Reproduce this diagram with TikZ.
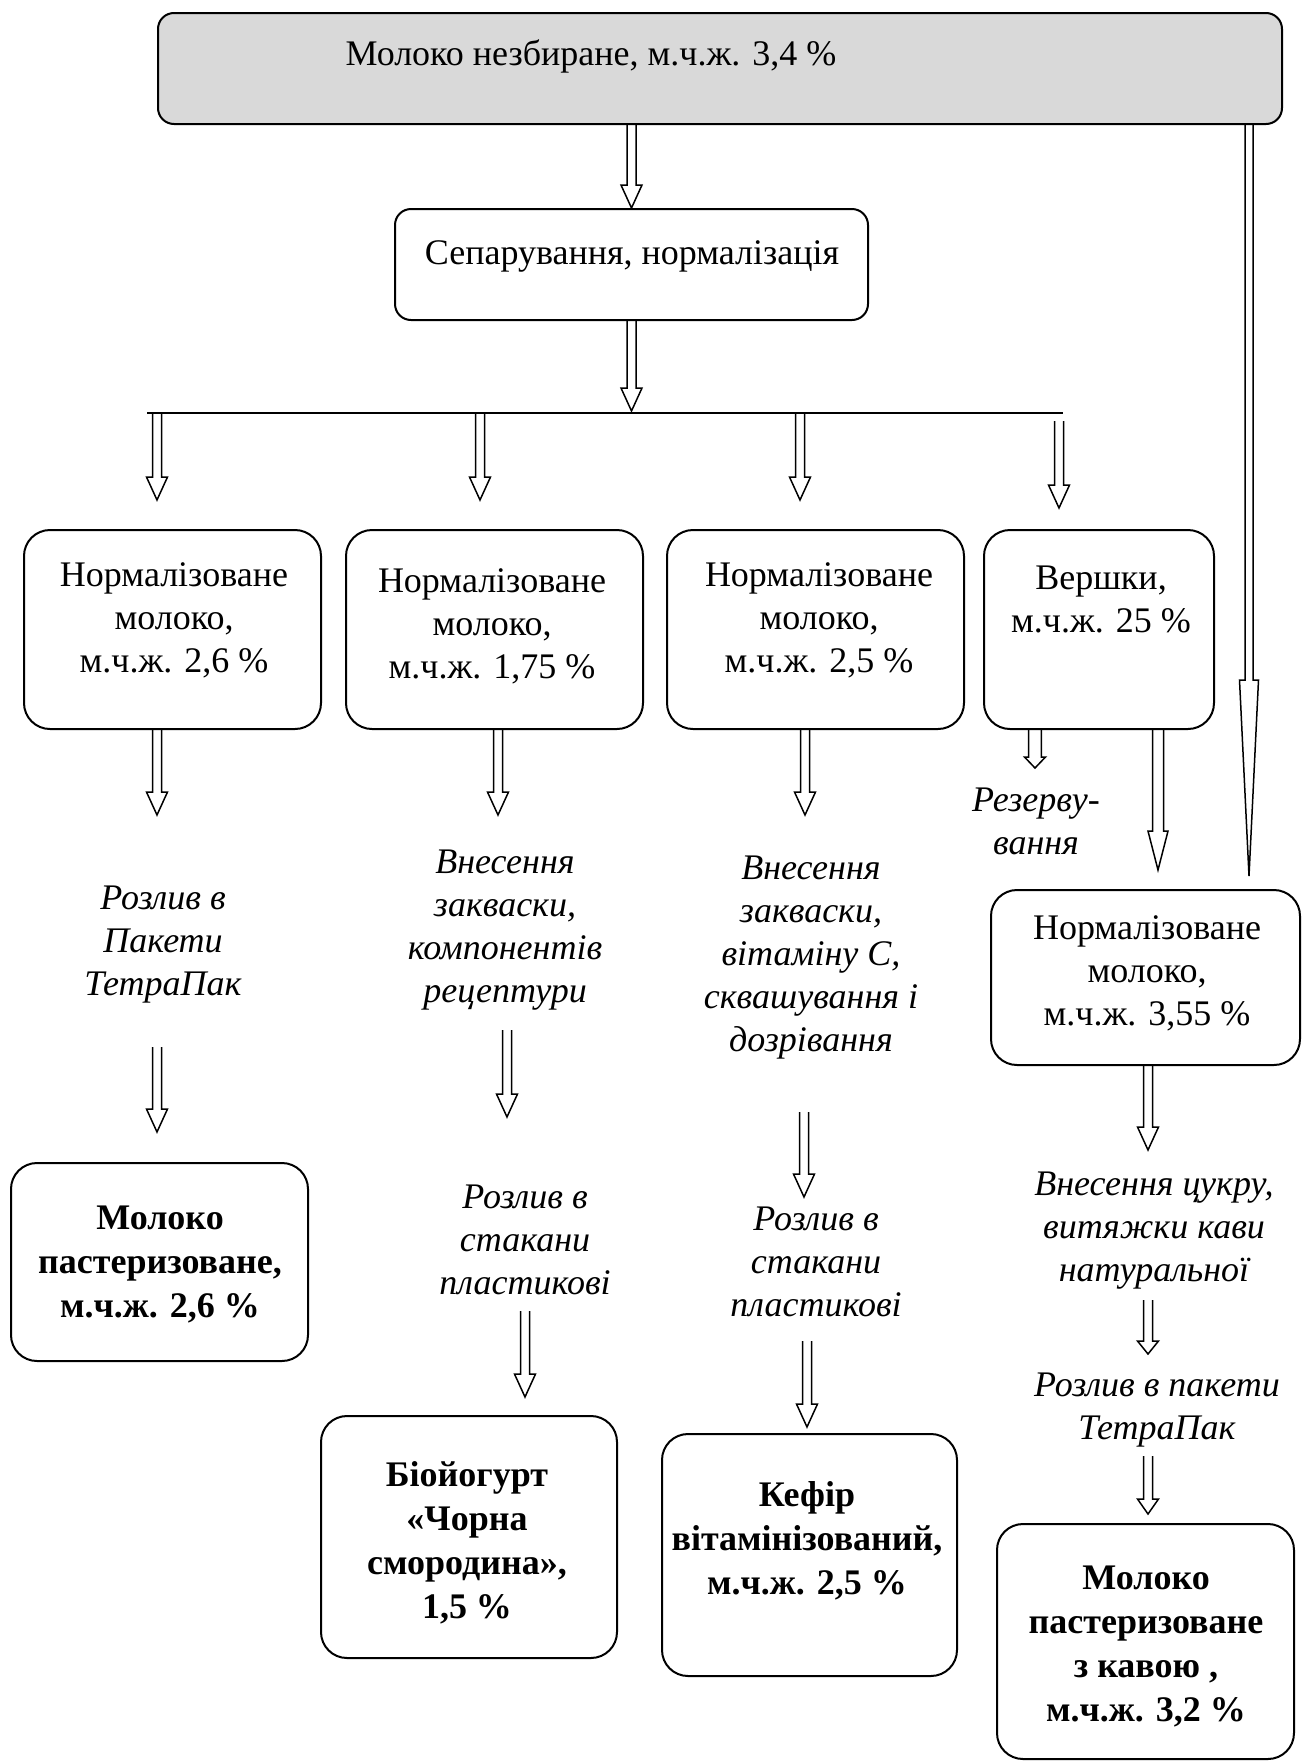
\documentclass[tikz,border=0pt]{standalone}
\usepackage{fontspec}
\setmainfont{Liberation Serif}
\usetikzlibrary{calc, fit}

\tikzset{
	shaft/.store in=\shaftw, tipw/.store in=\tipw, tiplen/.store in=\tiplen,
	shaft=2.25pt, tipw=5.25pt, tiplen=11.5pt,
	hol/.style={line width=0.75pt, to path={let \p1=(\tikztostart), \p2=(\tikztotarget) in
			({\x1-\shaftw},\y1) -- ({\x1-\shaftw},{\y2+\tiplen}) -- ({\x1-\tipw},{\y2+\tiplen})
			-- (\x1,\y2) -- ({\x1+\tipw},{\y2+\tiplen}) -- ({\x1+\shaftw},{\y2+\tiplen})
			-- ({\x1+\shaftw},\y1)}},
	box/.style={draw, line width=1pt, rounded corners=13pt, inner sep=0pt},
	txt/.style={align=center, inner sep=0pt, font=\fontsize{18}{21.5}\selectfont},
	note/.style={txt, font=\fontsize{18}{21.5}\selectfont\itshape},
	res/.style={txt, font=\fontsize{18}{22}\selectfont\bfseries}
}

\begin{document}
\begin{tikzpicture}[x=0.5pt, y=-0.5pt]
		\useasboundingbox (0,0) rectangle (1303,1762);
		
		% raw milk and separation
		\node[box, rounded corners=8pt, fill=black!15, fit={(158,13) (1282,124)}] (milk) {};
		\node[txt] (tMilk) at (591,56) {Молоко незбиране, м.ч.ж. 3,4 \%};
		\node[box, rounded corners=8pt, fit={(395,209) (868,320)}] (sep) {};
		\node[txt] (tSep) at (632,256) {Сепарування, нормалізація};
		
		\draw[hol] (sep.north |- milk.south) to (sep.north);
		
		\coordinate (busL) at (147,413);
		\coordinate (busR) at (1063,413);
		\draw[line width=1pt] (busL) -- (busR);
		\draw[hol] (sep.south) to ([yshift=1pt]sep.south |- busL);
		
		% normalised milk and cream
		\node[box, fit={(24,530) (321,729)}] (nA) {};
		\node[box, fit={(346,530) (643,729)}] (nB) {};
		\node[box, fit={(667,530) (964,729)}] (nC) {};
		\node[box, fit={(984,530) (1214,729)}] (cream) {};
		\node[txt] (tA) at (174,620) {Нормалізоване\\молоко,\\м.ч.ж. 2,6 \%};
		\node[txt] (tB) at (492,626) {Нормалізоване\\молоко,\\м.ч.ж. 1,75 \%};
		\node[txt] (tC) at (819,620) {Нормалізоване\\молоко,\\м.ч.ж. 2,5 \%};
		\node[txt] (tD) at (1101,599) {Вершки,\\м.ч.ж. 25 \%};
		
		\foreach \nm/\xx in {A/157, B/480, C/800}{
			\coordinate (in\nm) at (\xx,500);
			\draw[hol] (busL -| in\nm) to (in\nm);
		}
		\coordinate (inD) at (1059,508);
		\draw[hol] ([yshift=-4pt]busL -| inD) to (inD);
		
		\coordinate (oA) at (157,815);
		\coordinate (oB) at (498,815);
		\coordinate (oC) at (805,815);
		\draw[hol] (nA.south -| oA) to (oA);
		\draw[hol] (nB.south -| oB) to (oB);
		\draw[hol] (nC.south -| oC) to (oC);
		\coordinate (oR) at (1035,768);
		\draw[hol, shaft=3.2pt, tiplen=5.5pt] (cream.south -| oR) to (oR);
		\coordinate (oE) at (1158,870);
		\draw[hol, shaft=2.75pt, tipw=5pt, tiplen=19.5pt] (cream.south -| oE) to (oE);
		\coordinate (oW) at (1249,876);
		\draw[hol, shaft=2pt, tipw=4.75pt, tiplen=98pt] (milk.south -| oW) to (oW);
		
		% operations
		\node[note] (lA) at (163,945) {Розлив в\\Пакети\\ТетраПак};
		\node[note] (lB) at (505,930) {Внесення\\закваски,\\компонентів\\рецептури};
		\node[note] (lC) at (811,958) {Внесення\\закваски,\\вітаміну С,\\сквашування і\\дозрівання};
		\node[note] (lR) at (1036,821) {Резерву-\\вання};
		
		\node[box, fit={(991,890) (1300,1065)}] (nE) {};
		\node[txt] (tE) at (1147,973) {Нормалізоване\\молоко,\\м.ч.ж. 3,55 \%};
		\coordinate (oF) at (1148,1150);
		\draw[hol] (nE.south -| oF) to (oF);
		
		\foreach \nm/\xx/\ya/\yb in {A/157/1047/1132, B/507/1030/1117, C/804/1112/1197,
			G/525/1311/1397, H/807/1341/1427}{
			\coordinate (s\nm) at (\xx,\ya);
			\coordinate (e\nm) at (\xx,\yb);
			\draw[hol] (s\nm) to (e\nm);
		}
		\coordinate (sI) at (1148,1300);
		\coordinate (eI) at (1148,1354);
		\draw[hol, tiplen=6.5pt] (sI) to (eI);
		\coordinate (sJ) at (1148,1456);
		\coordinate (eJ) at (1148,1514);
		\draw[hol, tiplen=7.5pt] (sJ) to (eJ);
		
		\node[note] (lG) at (525,1240) {Розлив в\\стакани\\пластикові};
		\node[note] (lH) at (816,1262) {Розлив в\\стакани\\пластикові};
		\node[note] (lI) at (1154,1231) {Внесення цукру,\\витяжки кави\\натуральної};
		\node[note] (lJ) at (1157,1410) {Розлив в пакети\\ТетраПак};
		
		% products
		\node[box, fit={(11,1163) (308,1361)}] (pA) {};
		\node[res] (rA) at (160,1264) {Молоко\\пастеризоване,\\м.ч.ж. 2,6 \%};
		\node[box, fit={(321,1416) (617,1658)}] (pG) {};
		\node[res] (rG) at (467,1543) {Біойогурт\\«Чорна\\смородина»,\\1,5 \%};
		\node[box, fit={(662,1434) (957,1676)}] (pH) {};
		\node[res] (rH) at (807,1541) {Кефір\\вітамінізований,\\м.ч.ж. 2,5 \%};
		\node[box, fit={(997,1524) (1294,1759)}] (pI) {};
		\node[res] (rI) at (1146,1646) {Молоко\\пастеризоване\\з кавою ,\\м.ч.ж. 3,2 \%};
	\end{tikzpicture}
\end{document}
